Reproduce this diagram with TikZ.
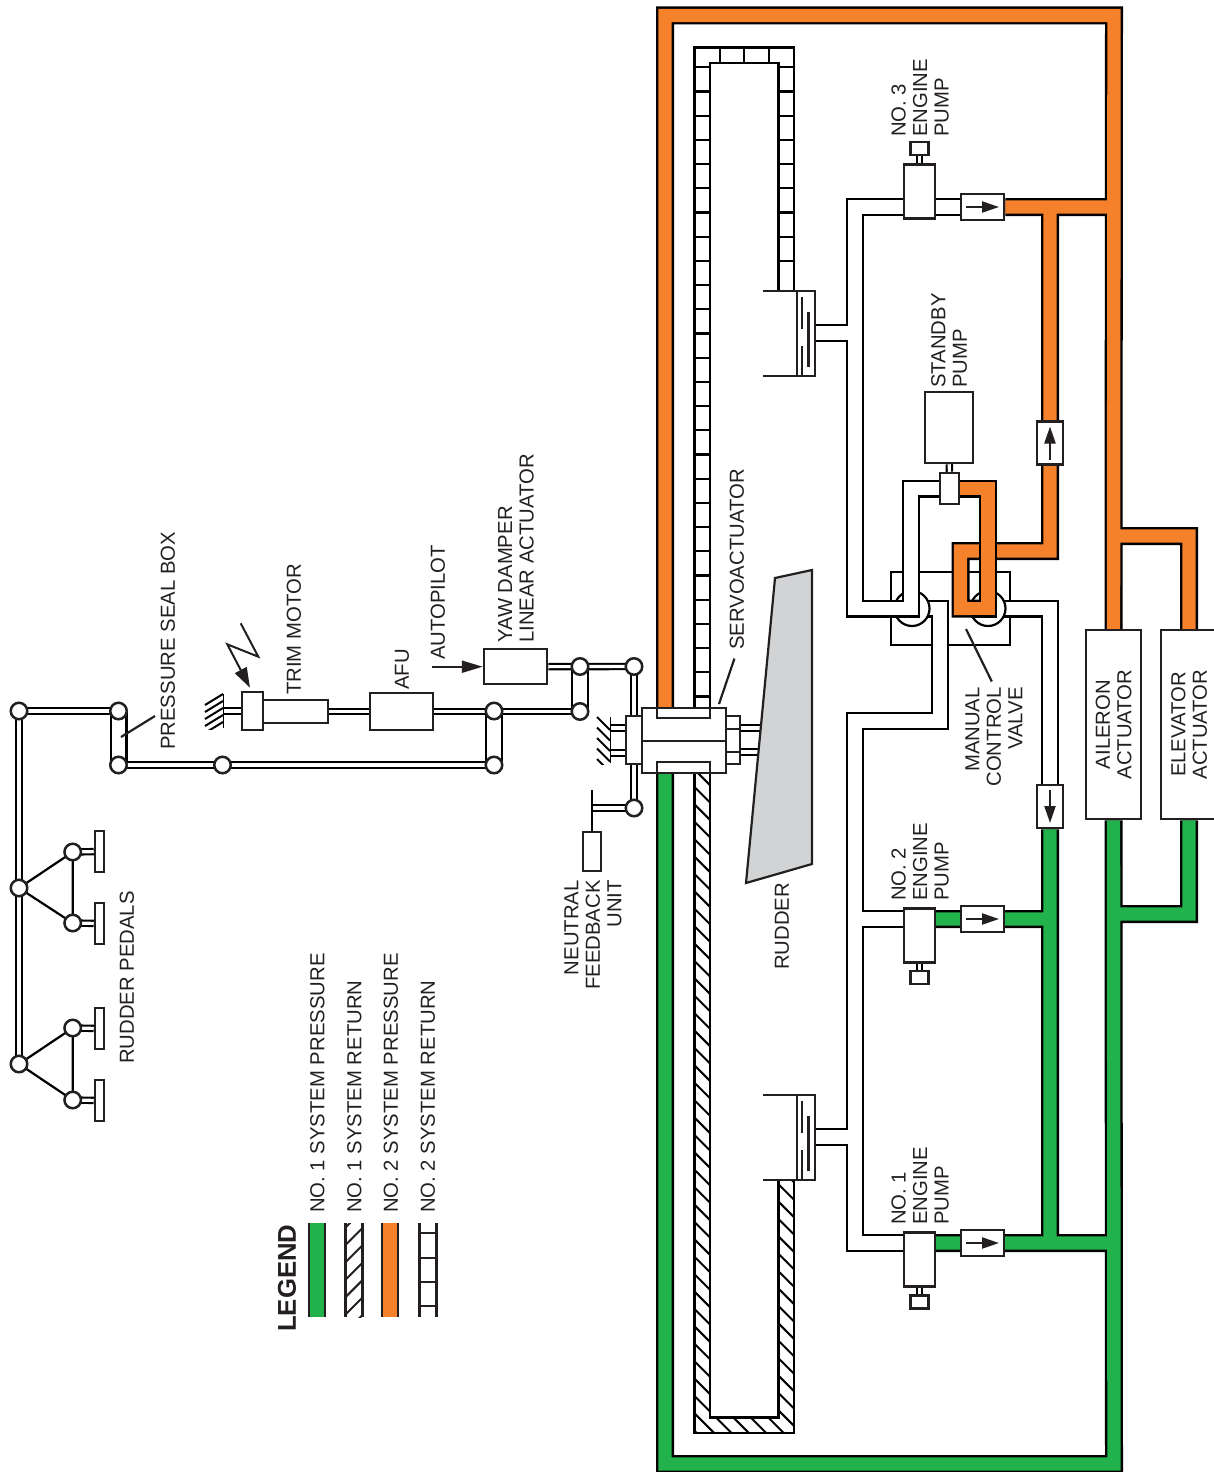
\documentclass[tikz,border=0pt]{standalone}
\usepackage{fontspec}
\setmainfont{Liberation Sans}
\usetikzlibrary{arrows.meta,backgrounds}
\definecolor{ink}{HTML}{231F20}
\definecolor{pgreen}{HTML}{22B24C}
\definecolor{porange}{HTML}{F5822A}
\definecolor{rudgray}{HTML}{D1D3D4}
\tikzset{
  pipe/.style={line width=2.3pt,double=#1,double distance=13.4pt},
  rod/.style={line width=2.1pt,double=white,double distance=3.2pt},
  box/.style={draw,fill=white,inner sep=0pt,line width=2.5pt},
  joint/.style={circle,draw,fill=white,inner sep=0pt,minimum size=16.5pt,line width=2.5pt},
  plate/.style={box,minimum width=9pt,minimum height=41pt},
  lbl/.style={rotate=90,inner sep=0pt,font=\fontsize{20.3}{21.5}\selectfont},
  flow/.style={line width=2.2pt,-{Triangle[length=17pt,width=11pt]}},
  lead/.style={line width=2.2pt,shorten <=5pt}
}
\begin{document}
\begin{tikzpicture}[x=1pt,y=-1pt,line width=2.5pt,ink]
    \useasboundingbox (0,0) rectangle (1213,1472);

    % Pumps and check valves
    \foreach \name/\yp/\ys in {3/191.5/148.5,2/935.5/977.5,1/1259.5/1302} {
        \node[box,minimum width=31pt,minimum height=54pt] (pump\name) at (919.5,\yp) {};
        \node[box,minimum width=18pt,minimum height=13pt] (drive\name) at (919.5,\ys) {};
    }
    \node[box,minimum width=43pt,minimum height=26pt] (chk3) at (982.5,207) {};
    \node[box,minimum width=43pt,minimum height=26pt] (chk2) at (982.5,919) {};
    \node[box,minimum width=43pt,minimum height=26pt] (chk1) at (982.5,1243) {};
    \node[box,minimum width=26pt,minimum height=43pt] (chkN) at (1050,443) {};
    \node[box,minimum width=26pt,minimum height=43pt] (chkS) at (1050,806.5) {};
    \node[box,minimum width=48pt,minimum height=71pt] (standby) at (949,427.5) {};
    \node[box,minimum width=19pt,minimum height=31pt] (selv) at (949.5,488.5) {};
    \foreach \c in {chk3,chk2,chk1} {
        \draw[flow] ([xshift=-16.5pt]\c.center) -- ([xshift=16.5pt]\c.center);
    }
    \draw[flow] ([yshift=-16.5pt]chkN.center) -- ([yshift=16.5pt]chkN.center);
    \draw[flow] ([yshift=16.5pt]chkS.center) -- ([yshift=-16.5pt]chkS.center);

    % Actuators
    \node[box,lbl,align=center,minimum width=189pt,minimum height=55pt] (aileron) at (1113.5,724.5) {AILERON\\ACTUATOR};
    \node[box,lbl,align=center,minimum width=189pt,minimum height=56pt] (elevator) at (1189,724.5) {ELEVATOR\\ACTUATOR};

    % Servoactuator
    \node[box,minimum width=84pt,minimum height=65pt] (servo) at (684,740.5) {};
    \draw[line width=2pt] (servo.west) -- (servo.east);
    \node[box,minimum width=53pt,minimum height=10pt] (servoT) at (683.5,713) {};
    \node[box,minimum width=53pt,minimum height=11pt] (servoB) at (683.5,767.5) {};
    \node[box,minimum width=16pt,minimum height=48pt] (capL) at (634,740) {};
    \node[box,minimum width=14pt,minimum height=48pt] (capR) at (733,740) {};
    \draw (726,729) -- (740,729) (726,752) -- (740,752);

    % Rudder
    \filldraw[fill=rudgray,line width=2.2pt] (775,578) -- (812,570) -- (812,864) -- (746,883) -- cycle;

    % Reservoirs
    \foreach \name/\yt in {A/291,B/1095} {
        \draw (763,\yt) -- (815,\yt) -- (815,\yt+85) -- (763,\yt+85);
        \draw[line width=2pt] (796.7,\yt) -- (796.7,\yt+85);
        \draw[line width=2.4pt] (801.7,\yt+6) -- (801.7,\yt+38) (801.7,\yt+55) -- (801.7,\yt+84);
        \draw[line width=2.4pt] (808.3,\yt+21) -- (808.3,\yt+76);
    }

    % Linkage joints
    \foreach \name/\x/\y in {a/19/711,b/118.5/711,c/118.5/765,d/222.5/765,e/494/711,f/494/765,g/580/711.5,h/580/666.5,i/634/666.5,k/634/808,m/19/888,n/19/1064,
        p/72.7/852,q/72.7/923,r/72.7/1028,s/72.7/1100} {
        \node[joint] (j\name) at (\x,\y) {};
    }
    \node[plate] (ped1) at (99.5,851.5) {};
    \node[plate] (ped2) at (99.5,923.5) {};
    \node[plate] (ped3) at (99.5,1028.5) {};
    \node[plate] (ped4) at (99.5,1100.5) {};
    \node[box,minimum width=21pt,minimum height=38pt] (trim) at (252.5,711) {};
    \node[box,minimum width=65pt,minimum height=23pt] (motor) at (295.5,711.5) {};
    \node[box,minimum width=63pt,minimum height=37pt] (afu) at (401.5,711.5) {};
    \node[box,minimum width=63pt,minimum height=35pt] (yawd) at (515.5,666.7) {};
    \node[box,minimum width=18pt,minimum height=39pt] (nfu) at (592,851.5) {};

    % Labels
    \node[lbl,anchor=west] (lblseal) at (168,751) {PRESSURE SEAL BOX};
    \node[lbl,anchor=west] (lbltrim) at (294,696) {TRIM MOTOR};
    \node[lbl,anchor=west] (lblafu) at (402,691) {AFU};
    \node[lbl,anchor=west] (lblauto) at (438,661) {AUTOPILOT};
    \node[lbl,anchor=west,align=left] (lblyaw) at (516,644) {YAW DAMPER\\LINEAR ACTUATOR};
    \node[lbl,anchor=west] (lblservo) at (737,651) {SERVOACTUATOR};
    \node[lbl,anchor=west] (lblrudder) at (782,971) {RUDDER};
    \node[lbl,anchor=east,align=right] (lblnfu) at (593,879) {NEUTRAL\\FEEDBACK\\UNIT};
    \node[lbl,anchor=west,align=left] (lblpump3) at (920,138) {NO. 3\\ENGINE\\PUMP};
    \node[lbl,anchor=west,align=left] (lblpump2) at (920,902) {NO. 2\\ENGINE\\PUMP};
    \node[lbl,anchor=west,align=left] (lblpump1) at (920,1226) {NO. 1\\ENGINE\\PUMP};
    \node[lbl,anchor=west,align=left] (lblstandby) at (949,389) {STANDBY\\PUMP};
    \node[lbl,anchor=east,align=right] (lblvalve) at (994,686) {MANUAL\\CONTROL\\VALVE};
    \node[lbl,anchor=west] (lblpedals) at (127,1065) {RUDDER PEDALS};

    % Legend
    \node[lbl,anchor=west,font=\fontsize{25.7}{26}\selectfont\bfseries] (lbllegend) at (287,1333) {LEGEND};
    \node[lbl,anchor=west] (lblleg1) at (317.5,1214) {NO. 1 SYSTEM PRESSURE};
    \node[lbl,anchor=west] (lblleg2) at (354.5,1214) {NO. 1 SYSTEM RETURN};
    \node[lbl,anchor=west] (lblleg3) at (391,1214) {NO. 2 SYSTEM PRESSURE};
    \node[lbl,anchor=west] (lblleg4) at (428,1214) {NO. 2 SYSTEM RETURN};
    \draw[pipe=pgreen] (317,1223) -- (317,1317);
    \draw[pipe=porange] (390,1223) -- (390,1317);
    \begin{scope}
        \clip (345,1223) rectangle (363,1317);
        \foreach \y in {1228,1245.4,...,1340} {
            \draw[line width=2pt] (345,\y) -- (363,\y-18);
        }
    \end{scope}
    \draw[line width=2.3pt] (345.5,1223) -- (345.5,1317) (362.5,1223) -- (362.5,1317);
    \draw[line width=2.3pt] (419.5,1223) -- (419.5,1317) (436.5,1223) -- (436.5,1317);
    \foreach \y in {1233,1258,1282,1306} {
        \draw[line width=2.1pt] (419.5,\y) -- (436.5,\y);
    }

    % Leaders
    \draw[lead,shorten <=8pt] (lblservo.west) -- (719,704);
    \draw[lead] (lblvalve.east) -- (966,629);
    \coordinate (sealtip) at (155,716);
    \draw[lead,shorten <=0pt] (sealtip) -- (121,737);
    \coordinate (autotail) at (432,666.7);
    \draw[line width=2.2pt,-{Triangle[length=21pt,width=12pt]}] (autotail) -- (yawd.west);
    \draw[line width=2pt,-{Triangle[length=20pt,width=13pt]}] (240.7,623.3) -- (258.3,656.7) -- (227.3,644.3) -- ([xshift=-2.5pt,yshift=3pt]trim.north);

    \begin{scope}[on background layer]
        % Manual control valve
        \draw[line width=2.2pt] (891,572) rectangle (1010,645);
        \draw[pipe=white] (927.8,608.5) -- (940,608.5) -- (940,721) -- (855,721) -- (855,1243) -- (pump1 |- chk1)
            (855,1137) -- (815,1137) (855,919) -- (pump2 |- chk2);
        \draw[pipe=white] (1003.8,608.5) -- (1050,608.5) -- (chkS);
        \draw[line width=2.2pt] (912,608.5) circle (17.5) (988,608.5) circle (17.5);
        \draw[pipe=white] (chk3) -- (pump3 |- chk3) (pump3 |- chk3) -- (855,207) -- (855,608.5) -- (911,608.5) -- (911,488.5) -- (selv)
            (855,333) -- (815,333);

        % System pressure lines
        \draw[pipe=porange] (665,708) -- (665,15.5) -- (1114,15.5) -- (aileron.east)
            (1114,536) -- (1189,536) -- (elevator.east)
            (1114,207) -- (chk3)
            (1050,207) -- (1050,551) -- (960.5,551) -- (960.5,608.5) -- (988,608.5);
        \draw[pipe=porange] (selv) -- (988,488.5) -- (988,608.5) -- (971,608.5);
        \draw[pipe=pgreen] (665,773) -- (665,1464) -- (1114,1464) -- (aileron.west)
            (1114,914) -- (1189,914) -- (elevator.west)
            (1114,1243) -- (pump1 |- chk1)
            (1050,1243) -- (chkS)
            (1050,919) -- (pump2 |- chk2);

        % Return lines
        \draw[pipe=white] (702.2,708) -- (702.2,55.3) -- (786.3,55.3) -- (786.3,291);
        \foreach \n in {0,...,26} {
            \draw[line width=2.1pt] (694,67.3+24.2*\n) -- (710,67.3+24.2*\n);
        }
        \foreach \n in {0,...,8} {
            \draw[line width=2.1pt] (778,67.3+24.2*\n) -- (794,67.3+24.2*\n);
        }
        \foreach \x in {720,744.3,768.7} {
            \draw[line width=2.1pt] (\x,47.6) -- (\x,63);
        }
        \draw[pipe=white] (702.2,773) -- (702.2,1425.2) -- (786.3,1425.2) -- (786.3,1180);
        \begin{scope}
            \clip (694,773) -- (694,1433) -- (794,1433) -- (794,1180) -- (778,1180) -- (778,1417) -- (710,1417) -- (710,773) -- cycle;
            \foreach \c in {57.7,75.1,...,745} {
                \draw[line width=2pt] (694,694+\c) -- (794,794+\c);
            }
        \end{scope}

        % Linkage rods
        \draw[pipe=white] (jb.center) -- (jc.center) (je.center) -- (jf.center) (jg.center) -- (jh.center);
        \draw[rod] (jn.center) -- (ja.center) -- (jb.center);
        \draw[rod] (jc.center) -- (jf.center);
        \draw[rod] (afu) -- (jg.center);
        \draw[rod] (motor) -- (afu);
        \coordinate (wallT) at (223,711);
        \draw[rod] (wallT) -- (trim);
        \draw[rod] (yawd) -- (ji.center);
        \draw[rod] (ji.center) -- (capL);
        \draw[rod] (capL) -- (jk.center) -- (592,808);
        \coordinate (nfutop) at (592,790);
        \draw[line width=2.2pt] (nfutop) -- (nfu);
        \foreach \name in {3,2,1} {
            \draw[rod] (drive\name) -- (pump\name);
        }
        \draw[rod] (standby) -- (selv);
        \draw[rod] (capL.west |- 0,728) -- (610,728) (capL.west |- 0,753) -- (610,753);
        \draw[rod] (capR.east |- 0,728) -- (765,728) (capR.east |- 0,752) -- (765,752);

        % Rudder pedals
        \foreach \s/\a/\b in {m/p/q,n/r/s} {
            \draw[line width=2.2pt] (j\a.center) -- (j\s.center) -- (j\b.center) -- cycle;
        }
        \foreach \a/\b in {p/ped1,q/ped2,r/ped3,s/ped4} {
            \draw[rod] (j\a.center) -- (\b);
        }

        % Fixed walls
        \draw (223,694) -- (223,728);
        \begin{scope}
            \clip (200,693) rectangle (223,729);
            \foreach \y in {694,701,708,715,722} {
                \draw[line width=2pt] (223,\y) -- (205,\y+11);
            }
        \end{scope}
        \draw (610,717) -- (610,763);
        \begin{scope}
            \clip (590,716) rectangle (610,764);
            \foreach \y in {717,727.5,738,748.5,759} {
                \draw[line width=2pt] (597,\y) -- (610,\y+13);
            }
        \end{scope}
    \end{scope}
\end{tikzpicture}
\end{document}
